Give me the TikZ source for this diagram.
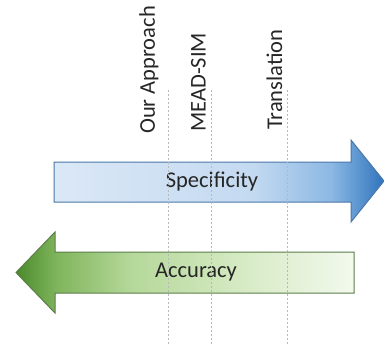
\documentclass[tikz,border=0pt]{standalone}
\usepackage{fontspec}
\setmainfont{Carlito}
\usetikzlibrary{positioning}

\definecolor{blueedge}{HTML}{4A77A8}
\definecolor{greenedge}{HTML}{5C7D4A}
\definecolor{labelgray}{HTML}{262626}
\definecolor{guidegray}{HTML}{B8B8B8}
\definecolor{specA}{HTML}{DBE8F6}
\definecolor{specB}{HTML}{C4DAF1}
\definecolor{specC}{HTML}{8CB8E4}
\definecolor{specD}{HTML}{2F74BD}
\definecolor{accA}{HTML}{4B8A2C}
\definecolor{accB}{HTML}{7FB55C}
\definecolor{accC}{HTML}{B5D89A}
\definecolor{accD}{HTML}{D9ECC8}
\definecolor{accE}{HTML}{F3F9EE}

% shadings: 25bp..75bp is the part that covers the path
\pgfdeclarehorizontalshading{specshade}{100bp}{%
  color(0bp)=(specA); color(25bp)=(specA); color(55bp)=(specB);
  color(67bp)=(specC); color(75bp)=(specD); color(100bp)=(specD)}
\pgfdeclarehorizontalshading{accshade}{100bp}{%
  color(0bp)=(accA); color(25bp)=(accA); color(31bp)=(accB);
  color(42bp)=(accC); color(60bp)=(accD); color(75bp)=(accE);
  color(100bp)=(accE)}

\begin{document}
\begin{tikzpicture}[
  x=1pt, y=-1pt,
  bigarrow/.style={line width=1pt, line join=miter},
  inlbl/.style={inner sep=0pt, text=labelgray, font=\fontsize{22.5}{27}\selectfont},
  toplbl/.style={inner sep=0pt, rotate=90, anchor=west, text=labelgray, font=\fontsize{22.5}{27}\selectfont},
  guide/.style={draw=guidegray, line width=0.7pt, dash pattern=on 2pt off 2pt},
]
  \useasboundingbox (0,0) rectangle (384,346);

  % the two arrows
  \draw[bigarrow, draw=blueedge, shading=specshade]
    (54,162) -- (351,162) -- (351,140) -- (384,181) -- (351,222) -- (351,202) -- (54,202) -- cycle;
  \draw[bigarrow, draw=greenedge, shading=accshade]
    (354,252) -- (55,252) -- (55,232) -- (16,272.5) -- (55,313) -- (55,293) -- (354,293) -- cycle;

  \node[inlbl] (spec) at (212,182) {Specificity};
  \node[inlbl] (acc) at (196,272.5) {Accuracy};

  % approaches
  \node[toplbl] (ours) at (149,134) {Our Approach};
  \node[toplbl] (mead) at (198.5,132) {MEAD-SIM};
  \node[toplbl] (trans) at (274.5,130) {Translation};

  \coordinate (ours top) at (168,90);
  \coordinate (ours bot) at (168,346);
  \coordinate (mead top) at (211,90);
  \coordinate (mead bot) at (211,346);
  \coordinate (trans top) at (287,90);
  \coordinate (trans bot) at (287,346);

  \draw[guide] (ours top) -- (ours bot);
  \draw[guide] (mead top) -- (mead bot);
  \draw[guide] (trans top) -- (trans bot);
\end{tikzpicture}
\end{document}
